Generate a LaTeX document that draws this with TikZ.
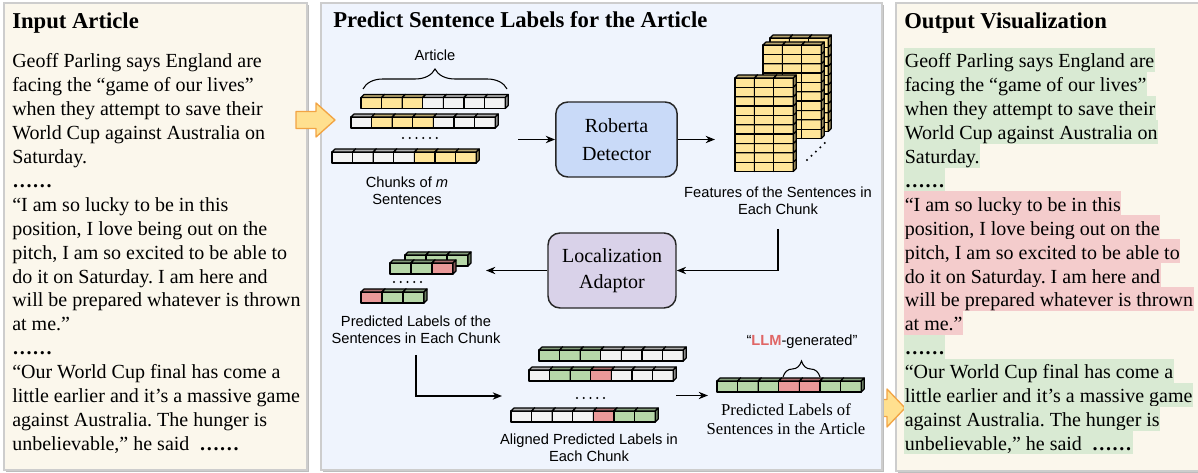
\documentclass[tikz,border=0pt]{standalone}
\usepackage{fontspec}
\setmainfont{Liberation Serif}
\setsansfont{Liberation Sans}
\frenchspacing
\usetikzlibrary{arrows.meta,decorations.pathreplacing,calc}
\definecolor{panelcream}{HTML}{FBF7EC}
\definecolor{panelblue}{HTML}{EFF4FD}
\definecolor{panelline}{HTML}{CDCDCD}
\definecolor{panelshadow}{HTML}{BDBDBD}
\definecolor{cY}{HTML}{FFE599}
\definecolor{cW}{HTML}{F3F3F3}
\definecolor{cG}{HTML}{B6D7A8}
\definecolor{cR}{HTML}{EA9999}
\definecolor{robfill}{HTML}{C9DAF8}
\definecolor{locfill}{HTML}{D9D2E9}
\definecolor{hlG}{HTML}{D9EAD3}
\definecolor{hlR}{HTML}{F4CCCC}
\definecolor{bigfill}{HTML}{FFE08F}
\definecolor{bigline}{HTML}{F2A444}
\definecolor{llmred}{HTML}{E06666}
\tikzset{
  cellline/.style={draw=black, line width=0.9pt, line join=round},
  panel/.style={draw=panelline, line width=0.9pt},
  pshadow/.style={fill=panelshadow},
  bigarrow/.style={fill=bigfill, draw=bigline, line width=1pt, line join=round},
  txt/.style={font=\fontsize{15}{18}\selectfont, inner sep=0pt, anchor=base west},
  ttl/.style={font=\fontsize{17}{20}\selectfont\bfseries, inner sep=0pt, anchor=base west},
  lab/.style={font=\sffamily\fontsize{11}{12.75}\selectfont, align=center, inner sep=0pt},
  box/.style={draw=black!85, line width=1.1pt, rounded corners=9pt, align=center,
    minimum width=91pt, minimum height=56.25pt, inner sep=0pt},
  conn/.style={-{Stealth[length=7pt,width=5.5pt]}, line width=1pt},
  brc/.style={decorate, decoration={brace, amplitude=#1}, line width=0.8pt},
  dotline/.style={line width=1.7pt, line cap=round, dash pattern=on 0pt off 5.05pt}
}
\newcommand\cellrow[5]{%
  \foreach \c [count=\i from 0] in {#5} {
    \pgfmathsetmacro\xa{#1+\i*#3}
    \filldraw[cellline, fill=\c] (\xa,#2) rectangle ++(#3,#4);
    \filldraw[cellline, fill=\c!72!black] (\xa,#2) -- ++(3,-3) -- ++(#3,0) -- ++(-3,3) -- cycle;
    \filldraw[cellline, fill=\c!58!black] (\xa+#3,#2) -- ++(3,-3) -- ++(0,#4) -- ++(-3,3) -- cycle;
  }}
\newcommand\featstack[2]{%
  \foreach \r in {9,8,...,0} {\cellrow{#1}{#2+\r*9.35}{19.4}{9.35}{cY,cY,cY}}}
\newcommand\dts{\textbf{……}}
\begin{document}
\begin{tikzpicture}[x=0.75pt,y=-0.75pt]
\useasboundingbox (0,0) rectangle (1198,473);
% panels
\fill[pshadow] (6,5) rectangle (309,472);
\draw[panel, fill=panelcream] (4,3) rectangle (307,470);
\fill[pshadow] (898,5) rectangle (1215,473);
\draw[panel, fill=panelcream] (896,3) rectangle (1215,471);
\filldraw[bigarrow] (866,399.5) -- (887,399.5) -- (887,389) -- (905,408) -- (887,427) -- (887,416.5) -- (866,416.5) -- cycle;
\fill[pshadow] (323,5) rectangle (884,472);
\draw[panel, fill=panelblue] (321,3) rectangle (882,470);
\filldraw[bigarrow] (296,111.5) -- (316,111.5) -- (316,103) -- (335,120) -- (316,137) -- (316,128.5) -- (296,128.5) -- cycle;
% titles
\node[ttl] (t1) at (12,29) {Input Article};
\node[ttl] (t2) at (333,28) {Predict Sentence Labels for the Article};
\node[ttl] (t3) at (904,29) {Output Visualization};
% left text
\foreach \t [count=\k from 0] in {
 {Geoff Parling says England are},
 {facing the “game of our lives”},
 {when they attempt to save their},
 {World Cup against Australia on},
 {Saturday.},
 {\dts},
 {“I am so lucky to be in this},
 {position, I love being out on the},
 {pitch, I am so excited to be able to},
 {do it on Saturday. I am here and},
 {will be prepared whatever is thrown},
 {at me.”},
 {\dts},
 {“Our World Cup final has come a},
 {little earlier and it’s a massive game},
 {against Australia. The hunger is},
 {unbelievable,” he said\hspace{0.5em}\dts}}
 {\node[txt] (L\k) at (12,68+23.9*\k) {\t};}
% right text with highlights
\foreach \t/\cc [count=\k from 0] in {
 {Geoff Parling says England are}/hlG,
 {facing the “game of our lives”}/hlG,
 {when they attempt to save their}/hlG,
 {World Cup against Australia on}/hlG,
 {Saturday.}/hlG,
 {\dts}/hlG,
 {“I am so lucky to be in this}/hlR,
 {position, I love being out on the}/hlR,
 {pitch, I am so excited to be able to}/hlR,
 {do it on Saturday. I am here and}/hlR,
 {will be prepared whatever is thrown}/hlR,
 {at me.”}/hlR,
 {\dts}/hlG,
 {“Our World Cup final has come a}/hlG,
 {little earlier and it’s a massive game}/hlG,
 {against Australia. The hunger is}/hlG,
 {unbelievable,” he said\hspace{0.5em}\dts}/hlG}
 {\node[txt, fill=\cc, text height=15pt, text depth=3pt, inner xsep=0.4pt] (R\k) at (904,68+23.9*\k) {\t};}
% article chunks
\node[lab] (art) at (435,55) {Article};
\draw[brc=15pt] (363,89) -- (507,89);
\cellrow{361}{97.5}{20.6}{11}{cY,cY,cY,cW,cW,cW,cW}
\cellrow{351}{117}{20.6}{11}{cW,cY,cY,cY,cW,cW,cW}
\draw[dotline] (403,138) -- (437,138);
\cellrow{332}{152}{20.6}{11}{cW,cW,cW,cW,cY,cY,cY}
\node[lab] (chk) at (407,191) {Chunks of \textit{m}\\Sentences};
% roberta
\node[box, fill=robfill, font=\fontsize{15}{21}\selectfont] (rob) at (616.5,139.5) {Roberta\\Detector};
\coordinate (c1) at (518,139.5);
\coordinate (c2) at (715,139.5);
\draw[conn] (c1) -- (rob.west);
\draw[conn] (rob.east) -- (c2);
% feature stacks
\featstack{770}{38}
\featstack{763}{45}
\featstack{735}{78}
\draw[dotline, dash pattern=on 0pt off 4.6pt] (807,160) -- (828,140);
\node[lab] (feat) at (778,201) {Features of the Sentences in\\Each Chunk};
% localization
\node[box, fill=locfill, minimum width=96pt, font=\fontsize{15}{19.5}\selectfont] (loc) at (612,270.5) {Localization\\Adaptor};
\coordinate (c3) at (778,229);
\coordinate (c4) at (486,270.5);
\draw[conn] (c3) |- (loc.east);
\draw[conn] (loc.west) -- (c4);
% predicted chunks
\cellrow{405}{255}{21}{11}{cG,cG,cG}
\cellrow{390}{263}{21}{11}{cG,cG,cR}
\draw[dotline] (394,282) -- (426,282);
\cellrow{361}{292}{21}{11}{cR,cG,cG}
\node[lab] (pred) at (416,330) {Predicted Labels of the\\Sentences in Each Chunk};
\coordinate (c5) at (416,355);
\coordinate (c6) at (502,396);
\draw[conn] (c5) |- (c6);
% aligned
\cellrow{539}{350}{20.6}{11}{cG,cG,cG,cW,cW,cW,cW}
\cellrow{529}{370}{20.6}{11}{cW,cG,cG,cR,cW,cW,cW}
\draw[dotline] (577,398) -- (608,398);
\cellrow{511}{411}{20.6}{11}{cW,cW,cW,cW,cR,cG,cG}
\node[lab] (alig) at (589,448) {Aligned Predicted Labels in\\Each Chunk};
\coordinate (c7) at (676,395.5);
\coordinate (c8) at (708,395.5);
\draw[conn] (c7) -- (c8);
% final
\node[lab] (llm) at (802,342) {“\textcolor{llmred}{\textbf{LLM}}-generated”};
\draw[brc=12pt] (783,377) -- (820,377);
\cellrow{717}{381}{20.6}{11}{cG,cG,cG,cR,cR,cG,cG}
\node[font=\fontsize{12.5}{14.25}\selectfont, align=center, inner sep=0pt] (fin) at (786,419.5) {Predicted Labels of\\Sentences in the Article};
\end{tikzpicture}
\end{document}
